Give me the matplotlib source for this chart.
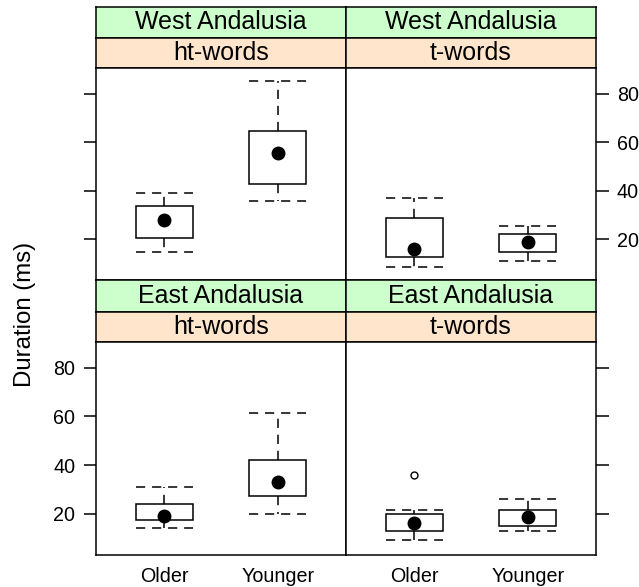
import matplotlib.pyplot as plt

plt.rcParams['font.family'] = ['Liberation Sans', 'DejaVu Sans']

groups = ['Older', 'Younger']
regions = ['West Andalusia', 'West Andalusia', 'East Andalusia', 'East Andalusia']
words = ['ht-words', 't-words', 'ht-words', 't-words']

# per panel, per group: lower whisker, q1, median, q3, upper whisker
whislo = [[14.6, 35.6], [8.5, 11.1], [14.0, 20.1], [9.2, 12.9]]
q1 = [[20.4, 42.6], [12.6, 14.7], [17.4, 27.2], [12.9, 15.2]]
med = [[27.8, 55.7], [16.1, 18.8], [19.3, 33.1], [16.3, 18.9]]
q3 = [[33.8, 64.5], [28.6, 22.1], [23.9, 42.2], [20.0, 21.6]]
whishi = [[39.1, 85.2], [37.1, 25.5], [31.2, 61.4], [21.4, 26.0]]
fliers = [[[], []], [[], []], [[], []], [[36.1], []]]

yticks = [20, 40, 60, 80]

W, H = 639, 587
fig = plt.figure(figsize=(W / 100, H / 100), dpi=100)


def rect(x0, y0, x1, y1):
    return [x0 / W, 1 - y1 / H, (x1 - x0) / W, (y1 - y0) / H]


cols = [(96, 346), (346, 596)]
rows = [(7, 37.5, 68.3, 280), (280, 311.5, 342, 555)]

for k in range(4):
    r, c = divmod(k, 2)
    x0, x1 = cols[c]
    g0, g1, o1, p1 = rows[r]

    # strips
    for (sy0, sy1, col, txt) in [(g0, g1, '#ccffcc', regions[k]), (g1, o1, '#ffe5cc', words[k])]:
        sa = fig.add_axes(rect(x0, sy0, x1, sy1))
        sa.set_facecolor(col)
        sa.set_xticks([])
        sa.set_yticks([])
        for s in sa.spines.values():
            s.set_linewidth(1.1)
        sa.text(0.5, 0.5, txt, ha='center', va='center', fontsize=18, transform=sa.transAxes)

    ax = fig.add_axes(rect(x0, o1, x1, p1))
    stats = []
    for i, g in enumerate(groups):
        stats.append(dict(label=g, whislo=whislo[k][i], q1=q1[k][i], med=med[k][i],
                          q3=q3[k][i], whishi=whishi[k][i], fliers=fliers[k][i]))
    ax.bxp(stats, positions=[1, 2], widths=0.5, capwidths=0.5, patch_artist=True,
           boxprops=dict(facecolor='white', edgecolor='black', linewidth=1.1),
           whiskerprops=dict(color='black', linewidth=1.1, linestyle=(0, (6, 4.5))),
           capprops=dict(color='black', linewidth=1.1, linestyle=(0, (6, 4.5))),
           medianprops=dict(visible=False),
           flierprops=dict(marker='o', markersize=5, markerfacecolor='white',
                           markeredgecolor='black', markeredgewidth=1.0))
    ax.plot([1, 2], med[k], 'o', color='black', markersize=9, zorder=5)

    ax.set_xlim(0.4, 2.6)
    ax.set_ylim(3.1, 90.6)
    for s in ax.spines.values():
        s.set_linewidth(1.1)
    ax.set_yticks(yticks)
    if c == 0:
        ax.tick_params(axis='y', left=True, right=False, labelleft=(r == 1), labelright=False,
                       length=9, width=1.1, pad=6, labelsize=14.2, direction='out')
    else:
        ax.tick_params(axis='y', left=False, right=True, labelleft=False, labelright=(r == 0),
                       length=9, width=1.1, pad=6, labelsize=14.2, direction='out')
    ax.set_xticks([1, 2])
    if r == 1:
        ax.set_xticklabels(groups)
        ax.tick_params(axis='x', length=0, pad=9, labelsize=14.2)
    else:
        ax.tick_params(axis='x', bottom=False, labelbottom=False)

fig.text(25 / W, 1 - 314 / H, 'Duration (ms)', rotation=90, ha='center', va='center', fontsize=17.3)

fig.savefig('out.png', dpi=100)
